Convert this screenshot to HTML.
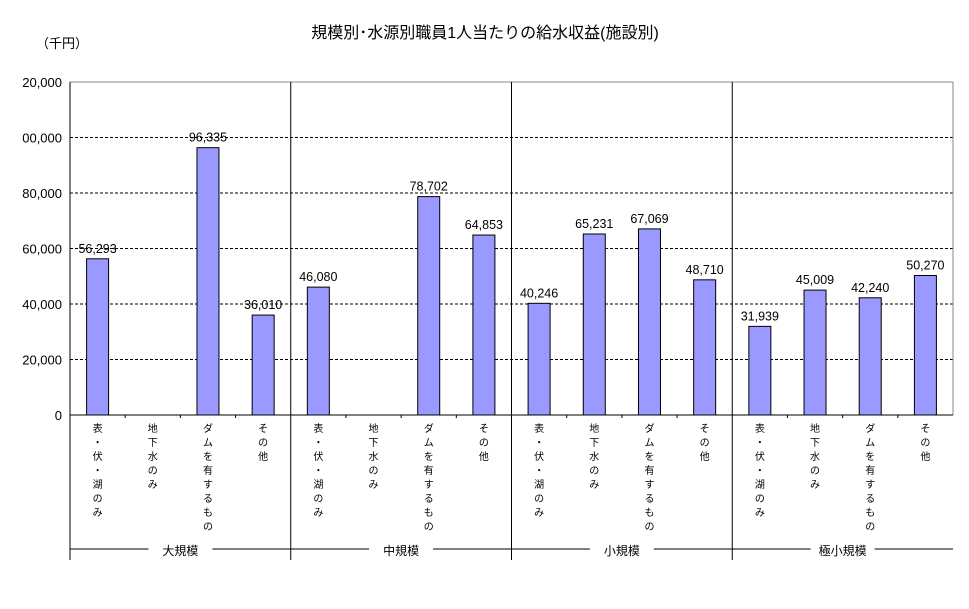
<!DOCTYPE html>
<html><head><meta charset="utf-8"><style>
body{margin:0;background:#fff;}
svg text{font-family:"Liberation Sans","Noto Sans CJK JP",sans-serif;}
</style></head><body>
<svg id="chart" width="969" height="604" xmlns="http://www.w3.org/2000/svg">
<text x="485" y="38" font-size="16" text-anchor="middle">規模別･水源別職員1人当たりの給水収益(施設別)</text>
<text x="36" y="48" font-size="13">（千円）</text>
<g id="plot"></g>
</svg>
<script>
const groups=["大規模","中規模","小規模","極小規模"];
const categories=["表・伏・湖のみ","地下水のみ","ダムを有するもの","その他"];
const values=[[56293,null,96335,36010],[46080,null,78702,64853],[40246,65231,67069,48710],[31939,45009,42240,50270]];
const yTicks=[0,20000,40000,60000,80000,100000,120000];
const yTickLabels=["0","20,000","40,000","60,000","80,000","00,000","20,000"];
const NS="http://www.w3.org/2000/svg";
const g=document.getElementById('plot');
const X0=70,X1=953,Y0=415,Y1=82,YMAX=120000;
const nCat=groups.length*categories.length,cw=(X1-X0)/nCat;
const y=v=>Y0-(v/YMAX)*(Y0-Y1);
const xc=i=>X0+cw*(i+0.5);
function mk(t,a){const e=document.createElementNS(NS,t);for(const k in a)e.setAttribute(k,a[k]);g.appendChild(e);return e;}
yTicks.forEach((t,i)=>{
  if(t>0&&t<YMAX){const l=mk('line',{x1:X0,x2:X1,y1:y(t),y2:y(t),stroke:'#000','stroke-dasharray':'3,2','stroke-width':1});
  
  }
  const tx=mk('text',{x:X0-8,y:y(t)+5,'font-size':13,'text-anchor':'end'});tx.textContent=yTickLabels[i];
  
  
});
const topBorder=mk('line',{x1:X0,x2:X1,y1:Y1,y2:Y1,stroke:'#888'});


const rb=mk('line',{x1:X1,x2:X1,y1:Y1,y2:Y0,stroke:'#888'});


const xa=mk('line',{x1:X0,x2:X1,y1:Y0,y2:Y0,stroke:'#000'});


for(let i=0;i<nCat;i++){const xx=X0+cw*i;
  if(i%4===0){const l=mk('line',{x1:xx,x2:xx,y1:Y1,y2:560,stroke:'#000'});
    
    }
  else{const l=mk('line',{x1:xx,x2:xx,y1:Y0,y2:Y0+3,stroke:'#000'});
    
    }
}
groups.forEach((gn,gi)=>{
  const gx0=X0+cw*4*gi,gx1=gx0+cw*4,mid=(gx0+gx1)/2;
  const l1=mk('line',{x1:gx0,x2:mid-32,y1:549,y2:549,stroke:'#000'});
  
  
  const l2=mk('line',{x1:mid+32,x2:gx1,y1:549,y2:549,stroke:'#000'});
  
  
  const t=mk('text',{x:mid,y:555,'font-size':12,'text-anchor':'middle'});t.textContent=gn;
  
  
  categories.forEach((c,ci)=>{
    const i=gi*4+ci,cx=xc(i);
    const lab=mk('text',{x:cx,y:432,'font-size':10,'text-anchor':'middle'});
    
    
    [...c].forEach((ch,k)=>{const s=document.createElementNS(NS,'tspan');s.setAttribute('x',cx);s.setAttribute('y',432+k*14);s.textContent=ch;lab.appendChild(s);});
    const v=values[gi][ci];
    if(v!=null){
      const r=mk('rect',{x:cx-11,y:y(v),width:22,height:Y0-y(v),fill:'#9999ff',stroke:'#000'});
      
      
      const vt=mk('text',{x:cx,y:y(v)-6,'font-size':12.5,'text-anchor':'middle'});vt.textContent=v.toLocaleString('en-US');
      
      
    }
  });
});
</script>
</body></html>
